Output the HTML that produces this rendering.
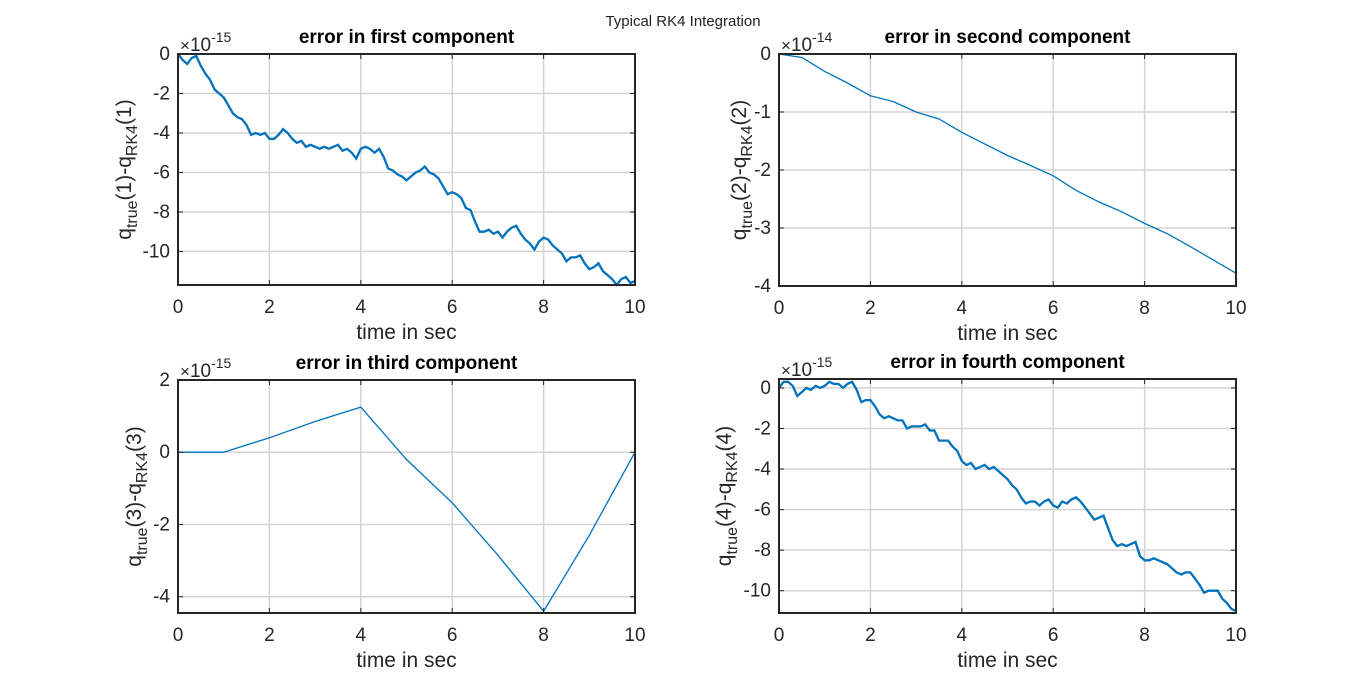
<!DOCTYPE html>
<html><head><meta charset="utf-8"><style>
body{margin:0;background:#fff;}
svg{display:block;font-family:"Liberation Sans",Arial,sans-serif;}
</style></head><body>
<svg id="fig" width="1366" height="691" viewBox="0 0 1366 691">
<rect width="1366" height="691" fill="#fff"/>
<text x="683" y="26" text-anchor="middle" font-size="15" fill="#222">Typical RK4 Integration</text>
</svg>
<script>
const timeStep01 = Array.from({length:101},(_,i)=>i/10);
const err1 = [0,-0.3,-0.5,-0.2,-0.1,-0.6,-1.0,-1.3,-1.8,-2.0,-2.2,-2.6,-3.0,-3.2,-3.3,-3.6,-4.1,-4.0,-4.1,-4.0,-4.3,-4.3,-4.1,-3.8,-4.0,-4.3,-4.5,-4.4,-4.7,-4.6,-4.7,-4.8,-4.7,-4.8,-4.7,-4.6,-4.9,-4.8,-5.0,-5.3,-4.8,-4.7,-4.8,-5.0,-4.8,-5.2,-5.8,-5.9,-6.1,-6.2,-6.4,-6.2,-6.0,-5.9,-5.7,-6.0,-6.1,-6.3,-6.7,-7.1,-7.0,-7.1,-7.3,-7.8,-7.9,-8.5,-9.0,-9.0,-8.9,-9.1,-9.0,-9.3,-9.0,-8.8,-8.7,-9.1,-9.4,-9.6,-9.9,-9.5,-9.3,-9.4,-9.7,-9.9,-10.1,-10.5,-10.3,-10.3,-10.2,-10.6,-10.9,-10.8,-10.6,-11.0,-11.2,-11.4,-11.7,-11.4,-11.3,-11.6,-11.5];
const err4 = [0,0.3,0.3,0.1,-0.4,-0.2,0,-0.1,0.1,0,0.1,0.3,0.2,0.2,0,0.2,0.3,-0.1,-0.7,-0.6,-0.6,-0.9,-1.3,-1.5,-1.4,-1.5,-1.6,-1.6,-2.0,-1.9,-1.9,-1.9,-1.8,-2.1,-2.1,-2.6,-2.6,-2.6,-2.9,-3.1,-3.6,-3.8,-3.7,-4.0,-3.9,-3.8,-4.0,-3.9,-4.1,-4.3,-4.5,-4.8,-5.0,-5.4,-5.7,-5.6,-5.6,-5.8,-5.6,-5.5,-5.8,-5.9,-5.6,-5.7,-5.5,-5.4,-5.6,-5.9,-6.2,-6.5,-6.4,-6.3,-6.9,-7.5,-7.8,-7.7,-7.8,-7.7,-7.6,-8.3,-8.5,-8.5,-8.4,-8.5,-8.6,-8.7,-8.9,-9.1,-9.2,-9.1,-9.1,-9.4,-9.7,-10.1,-10.0,-10.0,-10.0,-10.4,-10.6,-10.9,-11.0];
const time2 = [0,0.5,1,1.5,2,2.5,3,3.5,4,4.5,5,5.5,6,6.5,7,7.5,8,8.5,9,9.5,10];
const err2 = [0,-0.06,-0.3,-0.5,-0.72,-0.82,-1.0,-1.12,-1.35,-1.55,-1.75,-1.92,-2.1,-2.35,-2.55,-2.72,-2.92,-3.1,-3.32,-3.55,-3.78];
const time3 = [0,1,2,3,4,5,6,7,8,9,10];
const err3 = [0,0,0.4,0.85,1.25,-0.2,-1.4,-2.85,-4.4,-2.3,0];
const xTicks = [0,2,4,6,8,10];
const yTicks1 = [0,-2,-4,-6,-8,-10];
const yTicks2 = [0,-1,-2,-3,-4];
const yTicks3 = [2,0,-2,-4];
const yTicks4 = [0,-2,-4,-6,-8,-10];

const NS="http://www.w3.org/2000/svg";
const svg=document.getElementById('fig');
function mk(tag,attrs,parent){const e=document.createElementNS(NS,tag);for(const k in attrs)e.setAttribute(k,attrs[k]);(parent||svg).appendChild(e);return e;}

function panel(o){
  const g=mk('g',{});
  
  
  const {x0,x1,y0,y1,ymin,ymax}=o;
  const sx=v=>x0+(v-0)/(10-0)*(x1-x0);
  const sy=v=>y1-(v-ymin)/(ymax-ymin)*(y1-y0);
  mk('rect',{x:x0,y:y0,width:x1-x0,height:y1-y0,fill:'#fff'},g);
  xTicks.forEach(t=>{const l=mk('line',{x1:sx(t),x2:sx(t),y1:y0,y2:y1,stroke:'#d4d4d4','stroke-width':1.5},g);
    });
  o.yTicks.forEach(t=>{const l=mk('line',{x1:x0,x2:x1,y1:sy(t),y2:sy(t),stroke:'#d4d4d4','stroke-width':1.5},g);
    });
  const pts=o.xs.map((t,i)=>sx(t).toFixed(1)+','+sy(o.ys[i]).toFixed(1)).join(' ');
  const cp=mk('clipPath',{id:'clip'+o.name},g);mk('rect',{x:x0-2,y:y0-2,width:x1-x0+4,height:y1-y0+4},cp);
  const pl=mk('polyline',{points:pts,fill:'none',stroke:'#0072BD','stroke-width':o.lw,'stroke-linejoin':'miter','clip-path':'url(#clip'+o.name+')'},g);
  
  
  xTicks.forEach(t=>{
    mk('line',{x1:sx(t),x2:sx(t),y1:y1,y2:y1-5,stroke:'#262626','stroke-width':1},g);
    mk('line',{x1:sx(t),x2:sx(t),y1:y0,y2:y0+5,stroke:'#262626','stroke-width':1},g);
    const tx=mk('text',{x:sx(t),y:y1+28,'text-anchor':'middle','font-size':19,fill:'#262626'},g);tx.textContent=t;
    
  });
  o.yTicks.forEach(t=>{
    mk('line',{x1:x0,x2:x0+5,y1:sy(t),y2:sy(t),stroke:'#262626','stroke-width':1},g);
    mk('line',{x1:x1,x2:x1-5,y1:sy(t),y2:sy(t),stroke:'#262626','stroke-width':1},g);
    const tx=mk('text',{x:x0-8,y:sy(t)+6,'text-anchor':'end','font-size':19,fill:'#262626'},g);tx.textContent=t;
    
  });
  mk('rect',{x:x0,y:y0,width:x1-x0,height:y1-y0,fill:'none',stroke:'#262626','stroke-width':2},g);
  const ex=mk('text',{x:x0+2,y:y0-3,'font-size':19,fill:'#262626'},g);
  
  ex.innerHTML='<tspan font-size="17">×</tspan>10<tspan font-size="14" dy="-9">'+o.exp+'</tspan>';
  const ti=mk('text',{x:(x0+x1)/2,y:y0-11,'text-anchor':'middle','font-size':19,'font-weight':'bold',fill:'#000'},g);
  ti.textContent=o.title;
  const xl=mk('text',{x:(x0+x1)/2,y:y1+54,'text-anchor':'middle','font-size':21,fill:'#262626'},g);
  xl.textContent='time in sec';
  const cx=o.ylx, cy=(y0+y1)/2;
  const yl=mk('text',{x:cx,y:cy,'text-anchor':'middle','font-size':21,fill:'#262626',transform:'rotate(-90 '+cx+' '+cy+')'},g);
  
  const n=o.idx;
  yl.innerHTML='q<tspan font-size="16" dy="6">true</tspan><tspan dy="-6">('+n+')-q</tspan><tspan font-size="16" dy="6">RK4</tspan><tspan dy="-6">('+n+')</tspan>';
}
panel({name:'panel-first',idx:1,x0:178,x1:635,y0:54,y1:285,ymin:-11.7,ymax:0,yTicks:yTicks1,xs:timeStep01,ys:err1,lw:2.3,exp:'-15',title:'error in first component',ylx:131});
panel({name:'panel-second',idx:2,x0:779,x1:1236,y0:54,y1:286,ymin:-4,ymax:0,yTicks:yTicks2,xs:time2,ys:err2,lw:1.3,exp:'-14',title:'error in second component',ylx:746});
panel({name:'panel-third',idx:3,x0:178,x1:635,y0:380,y1:613,ymin:-4.45,ymax:2,yTicks:yTicks3,xs:time3,ys:err3,lw:1.3,exp:'-15',title:'error in third component',ylx:141});
panel({name:'panel-fourth',idx:4,x0:779,x1:1236,y0:379,y1:613,ymin:-11.1,ymax:0.44,yTicks:yTicks4,xs:timeStep01,ys:err4,lw:2.3,exp:'-15',title:'error in fourth component',ylx:731});
</script>
</body></html>
